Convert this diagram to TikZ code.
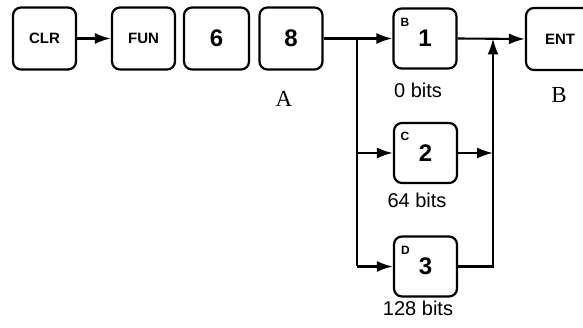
\documentclass[tikz,border=0pt]{standalone}
\usepackage{fontspec}
\setmainfont{Liberation Serif}
\setsansfont{Liberation Sans}
\usetikzlibrary{arrows.meta}
\begin{document}
\begin{tikzpicture}[x=1pt,y=-1pt,
  key/.style={draw, line width=2.2pt, rounded corners=8pt, minimum width=63pt,
    minimum height=62pt, inner sep=0pt, font=\sffamily\bfseries\fontsize{15}{15}\selectfont},
  num/.style={key, font=\sffamily\bfseries\fontsize{24}{24}\selectfont},
  conn/.style={line width=2.1pt},
  thinconn/.style={line width=1.4pt},
  arr/.style={conn, -{Latex[length=16pt,width=11pt]}},
  bits/.style={font=\sffamily\fontsize{20}{20}\selectfont},
  supl/.style={inner sep=0pt, font=\sffamily\bfseries\fontsize{12}{12}\selectfont},
  lbl/.style={inner sep=0pt, font=\rmfamily\fontsize{23}{23}\selectfont}]
\clip (0,0) rectangle (583,328);
% keys
\node[key] (clr) at (44.5,38.5) {CLR};
\node[key] (fun) at (143.5,38.5) {FUN};
\node[num, minimum width=65pt] (six) at (216.5,38.5) {6};
\node[num] (eight) at (291,38.5) {8};
\node[num, minimum height=60pt] (b1) at (425,38.5) {1};
\node[num, minimum height=60pt] (b2) at (425.5,153) {2};
\node[num, minimum height=60pt] (b3) at (425.5,266.5) {3};
\node[key, minimum width=68pt] (ent) at (560,39) {ENT};
% superscript letters
\node[supl] (sb) at ([xshift=12.5pt,yshift=-15pt]b1.north west) {B};
\node[supl] (sc) at ([xshift=12pt,yshift=-14.5pt]b2.north west) {C};
\node[supl] (sd) at ([xshift=12.5pt,yshift=-14.5pt]b3.north west) {D};
% labels
\node[bits] (l0) at (418,90) {0 bits};
\node[bits] (l64) at (417,200) {64 bits};
\node[bits] (l128) at (418,308) {128 bits};
\node[lbl] (la) at (284,98.5) {A};
\node[lbl] (lb) at (559,95.5) {B};
% connectors
\draw[arr] (clr) -- (fun);
\draw[arr] (eight.east) -- (b1.west);
\coordinate (sp) at (357,38.5);
\coordinate (sp3) at (sp |- b3.west);
\coordinate (sp2) at (sp |- b2.west);
\draw[thinconn] (sp) -- (sp3);
\draw[arr] (sp2) -- (b2.west);
\draw[arr] (sp3) -- (b3.west);
\coordinate (jn) at (493,38.5);
\coordinate (jn2) at (jn |- b2.east);
\draw[arr] (b3.east) -| (jn);
\draw[arr] (b2.east) -- (jn2);
\draw[arr] (b1.east) -- (ent.west);
\end{tikzpicture}
\end{document}
